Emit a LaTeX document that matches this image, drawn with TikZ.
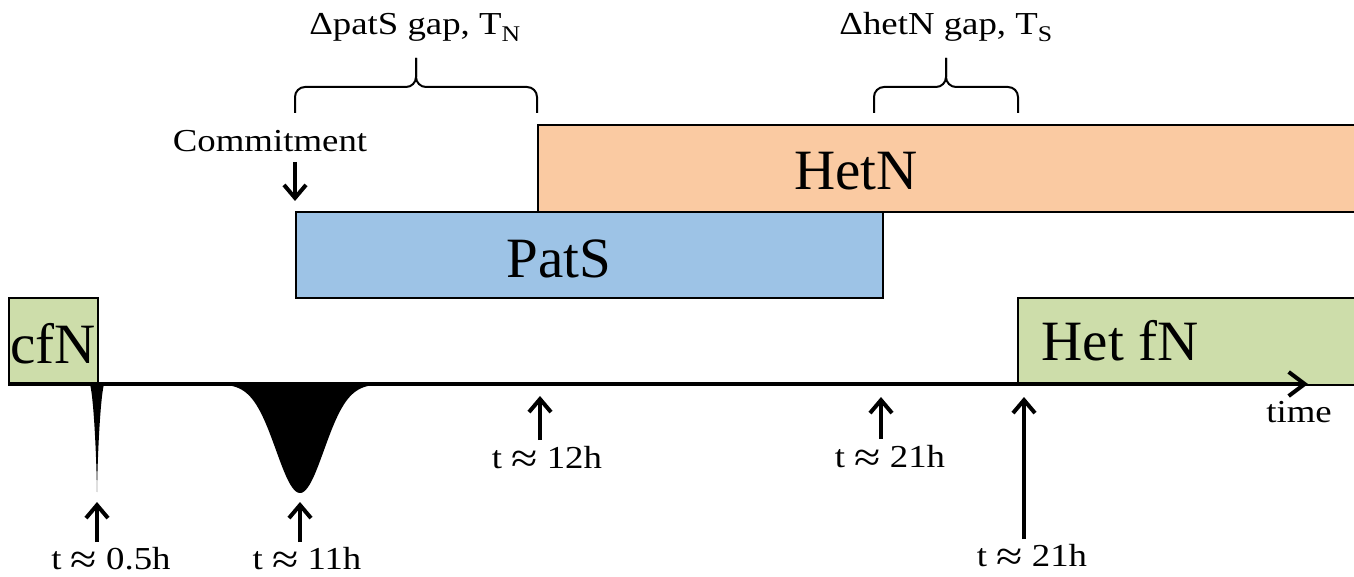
\documentclass[tikz,border=0pt]{standalone}
\usepackage{fontspec}
\setmainfont{LiberationSerif}[Extension=.ttf, UprightFont=*-Regular, BoldFont=*-Bold, ItalicFont=*-Italic, BoldItalicFont=*-BoldItalic]
\newfontfamily\labfont{LiberationSerif}[Extension=.ttf, UprightFont=*-Regular, FakeStretch=1.15]
\usetikzlibrary{arrows.meta}
\definecolor{fgreen}{RGB}{205,221,170}
\definecolor{fpeach}{RGB}{250,202,162}
\definecolor{fblue}{RGB}{157,195,230}
\newcommand\apxsym{\raisebox{-4pt}[\height][0pt]{\scalebox{1.3}{≈}}}
\begin{document}
\begin{tikzpicture}[x=1pt,y=-1pt,
  bar/.style={draw=black, line width=2pt, inner sep=0pt, anchor=north west},
  big/.style={font=\fontsize{57}{60}\selectfont, inner sep=0pt, anchor=base},
  small/.style={font=\labfont\fontsize{32}{36}\selectfont, inner sep=0pt, anchor=base},
  uparrow/.style={line width=3.5pt, -{Straight Barb[length=13pt,width=22pt,line width=4pt]}},
  axisline/.style={line width=4pt, -{Straight Barb[length=16pt,width=24pt,line width=4pt]}},
  bracket/.style={line width=2pt, rounded corners=10pt}]
\useasboundingbox (0,0) rectangle (1354,577);

% boxes
\node[bar, fill=fpeach, minimum width=817pt, minimum height=87pt] (hetn) at (537,124) {};
\node[bar, fill=fblue, minimum width=587pt, minimum height=86pt] (pats) at (295,211) {};
\node[bar, fill=fgreen, minimum width=89pt, minimum height=87pt] (cfn) at (8,297) {};
\node[bar, fill=fgreen, minimum width=340pt, minimum height=87pt] (hetfn) at (1017,297) {};

\node[big] (thetn) at (856,190) {HetN};
\node[big] (tpats) at (559,278) {PatS};
\node[big] (tcfn) at (53,363) {cfN};
\node[big] (thetfn) at (1120,360) {Het fN};

% pulses below axis
\fill (230,384) -- plot[domain=230:370, samples=80, smooth] (\x, {384+109*exp(-((\x-300)/24)^2/2)}) -- (370,384) -- cycle;
\fill (90,384) .. controls (94,400) and (96.5,460) .. (97,492) .. controls (97.5,460) and (100,400) .. (104,384) -- cycle;

% time axis
\coordinate (a0) at (8,384);
\coordinate (a1) at (1308,384);
\draw[axisline] (a0) -- (a1);
\node[small] (time) at (1299,422) {time};

% markers
\coordinate (m1t) at (97,502);   \coordinate (m1b) at (97,542);
\coordinate (m2t) at (300,502);  \coordinate (m2b) at (300,542);
\coordinate (m3t) at (540,396);  \coordinate (m3b) at (540,440);
\coordinate (m4t) at (881,397);  \coordinate (m4b) at (881,439);
\coordinate (m5t) at (1024,397); \coordinate (m5b) at (1024,539);
\draw[uparrow] (m1b) -- (m1t);
\draw[uparrow] (m2b) -- (m2t);
\draw[uparrow] (m3b) -- (m3t);
\draw[uparrow] (m4b) -- (m4t);
\draw[uparrow] (m5b) -- (m5t);
\node[small] (l1) at (111,569) {t \apxsym{} 0.5h};
\node[small] (l2) at (307,569) {t \apxsym{} 11h};
\node[small] (l3) at (547,468) {t \apxsym{} 12h};
\node[small] (l4) at (890,467) {t \apxsym{} 21h};
\node[small] (l5) at (1032,566) {t \apxsym{} 21h};

% commitment
\node[small] (commit) at (270,152) {Commitment};
\coordinate (c0) at (295,162);
\coordinate (c1) at (295,201);
\draw[uparrow] (c0) -- (c1);

% braces
\coordinate (b1l) at (295,113); \coordinate (b1r) at (537,113); \coordinate (b1t) at (416,58);
\draw[bracket] (b1l) -- (295,87) -- (416,87) -- (b1t);
\draw[bracket] (b1r) -- (537,87) -- (416,87) -- (b1t);
\node[small] (g1) at (415,35) {ΔpatS gap, T\textsubscript{N}};

\coordinate (b2l) at (874,113); \coordinate (b2r) at (1018,113); \coordinate (b2t) at (946,58);
\draw[bracket] (b2l) -- (874,87) -- (946,87) -- (b2t);
\draw[bracket] (b2r) -- (1018,87) -- (946,87) -- (b2t);
\node[small] (g2) at (946,35) {ΔhetN gap, T\textsubscript{S}};
\end{tikzpicture}
\end{document}
